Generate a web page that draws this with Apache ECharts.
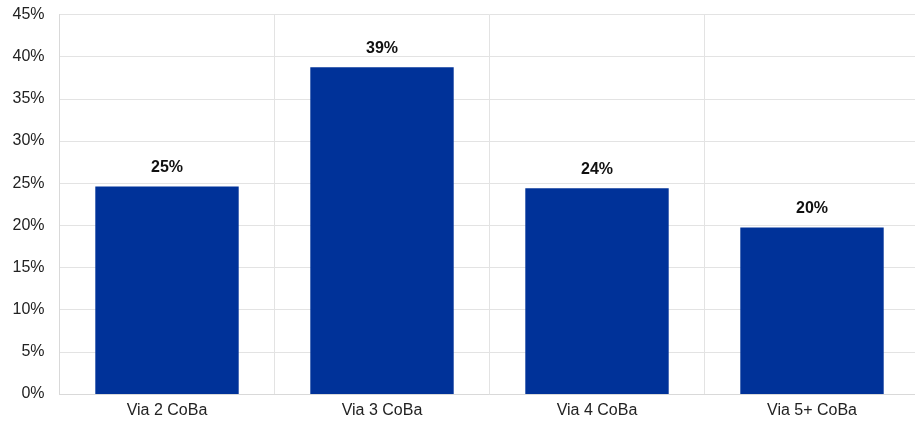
<!DOCTYPE html>
<html><head><meta charset="utf-8">
<script src="https://cdn.jsdelivr.net/npm/echarts@6/dist/echarts.min.js"></script>
<style>html,body{margin:0;padding:0;background:#fff;overflow:hidden}#c{width:922px;height:423px}</style>
</head><body><div id="c"></div>
<script>
const categories = ["Via 2 CoBa", "Via 3 CoBa", "Via 4 CoBa", "Via 5+ CoBa"];
const values = [24.6, 38.75, 24.4, 19.75];
const yTicks = [0, 5, 10, 15, 20, 25, 30, 35, 40, 45];

const chart = echarts.init(document.getElementById('c'));
chart.setOption({
  animation: false,
  textStyle: { fontFamily: '"Liberation Sans", Arial, sans-serif' },
  grid: { left: 59.5, top: 14.5, width: 860, bottom: 29, containLabel: false },
  xAxis: {
    type: 'category', data: categories,
    axisLine: { lineStyle: { color: '#d9d9d9', width: 1 } },
    axisTick: { show: false },
    splitLine: { show: true, lineStyle: { color: '#e3e3e3' } },
    axisLabel: { color: '#222', fontSize: 16, margin: 9, interval: 0 }
  },
  yAxis: {
    type: 'value', min: yTicks[0], max: yTicks[yTicks.length - 1], interval: 5,
    axisLine: { show: true, lineStyle: { color: '#d9d9d9' } },
    axisTick: { show: false },
    splitLine: { lineStyle: { color: '#e3e3e3' } },
    axisLabel: { color: '#222', fontSize: 16, margin: 15, formatter: v => v + '%' }
  },
  series: [{
    type: 'bar', data: values, barCategoryGap: '33.3%',
    itemStyle: { color: '#003299' },
    label: { show: true, position: 'top', distance: 11, fontSize: 16, fontWeight: 'bold', color: '#111',
      formatter: p => Math.round(p.value) + '%' }
  }]
});
</script></body></html>
